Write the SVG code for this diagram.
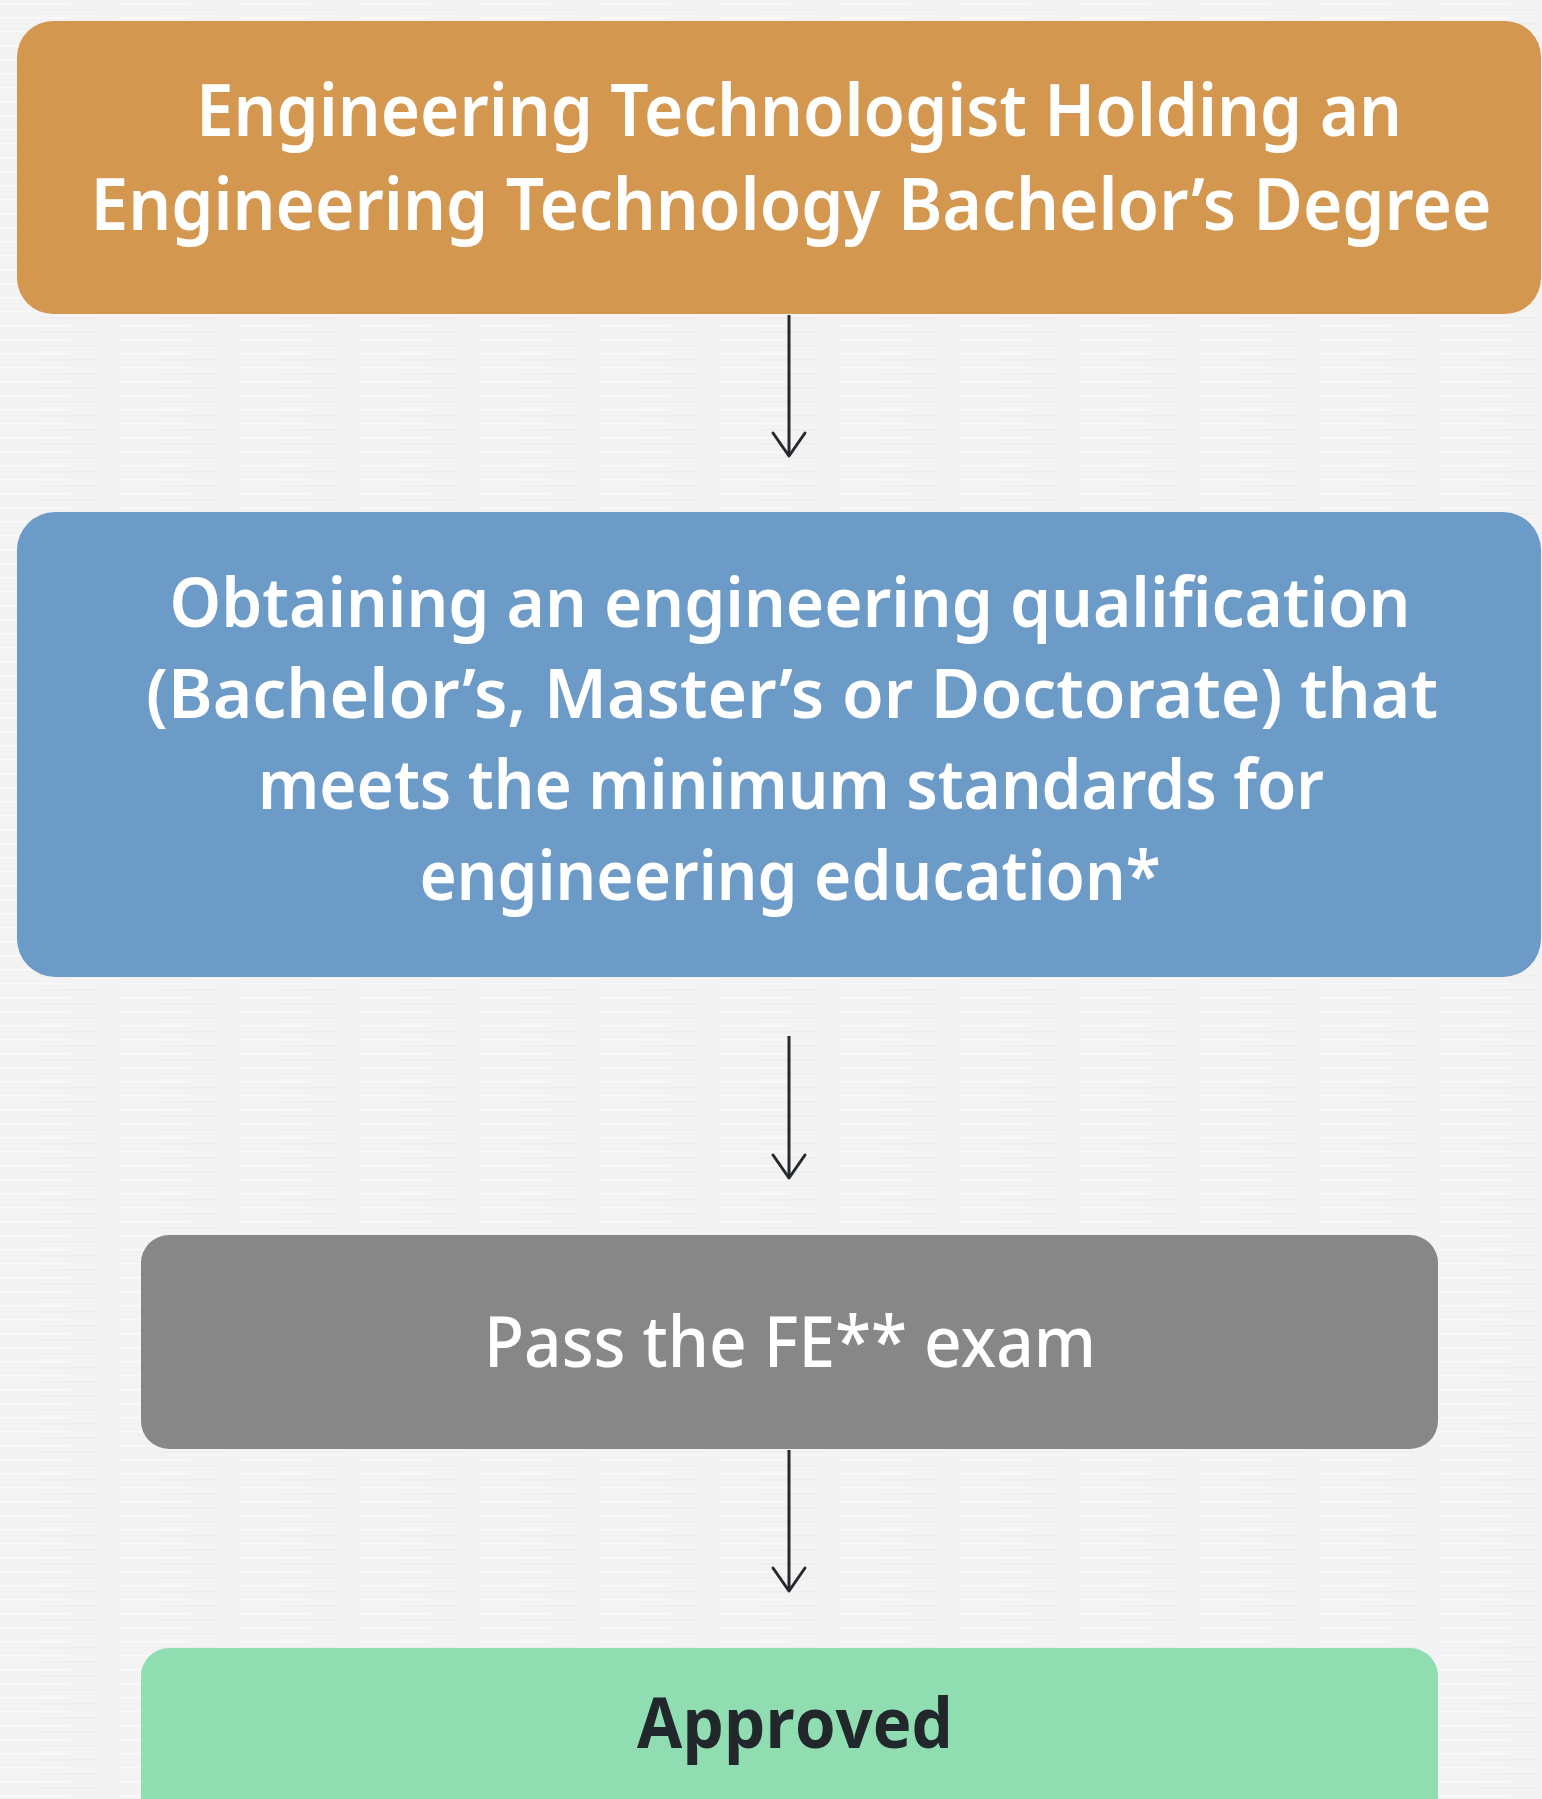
<svg xmlns="http://www.w3.org/2000/svg" width="1542" height="1799" viewBox="0 0 1542 1799">
  <defs>
    <pattern id="tex" width="120" height="14" patternUnits="userSpaceOnUse">
      <rect width="120" height="14" fill="#f3f3f3"/>
      <rect x="0" y="3" width="70" height="1.5" fill="#fafafa"/>
      <rect x="40" y="9" width="60" height="1.5" fill="#ededed"/>
    </pattern>
    <marker id="arrow" markerUnits="userSpaceOnUse" markerWidth="40" markerHeight="40" viewBox="-30 -20 40 40" refX="0" refY="0" orient="auto">
      <path d="M-23,-16 L0,0 L-23,16" fill="none" stroke="#25292d" stroke-width="3" stroke-linecap="round" stroke-linejoin="round"/>
    </marker>
  </defs>
  <style>
    .lbl { fill: #ffffff; text-anchor: middle; font-family: "Noto Sans", "Open Sans", sans-serif; }
    .conn { stroke: #25292d; stroke-width: 3; fill: none; marker-end: url(#arrow); }
  </style>
  <rect width="1542" height="1799" fill="url(#tex)"/>

  <g id="connectors">
    <line class="conn" x1="789" y1="315" x2="789" y2="456"/>
    <line class="conn" x1="789" y1="1036" x2="789" y2="1178"/>
    <line class="conn" x1="789" y1="1450" x2="789" y2="1591"/>
  </g>

  <g id="node-technologist">
    <rect x="17" y="21" width="1524" height="293" rx="36" fill="#d4974f"/>
    <text class="lbl" font-size="72" font-weight="600" x="799" y="136" textLength="1206" lengthAdjust="spacingAndGlyphs">Engineering Technologist Holding an</text>
    <text class="lbl" font-size="72" font-weight="600" x="791" y="230" textLength="1401" lengthAdjust="spacingAndGlyphs">Engineering Technology Bachelor’s Degree</text>
  </g>

  <g id="node-qualification">
    <rect x="17" y="512" width="1524" height="465" rx="38" fill="#6d9bc7"/>
    <text class="lbl" font-size="69" font-weight="600" x="790" y="627" textLength="1241" lengthAdjust="spacingAndGlyphs">Obtaining an engineering qualification</text>
    <text class="lbl" font-size="69" font-weight="600" x="792" y="718" textLength="1292" lengthAdjust="spacingAndGlyphs">(Bachelor’s, Master’s or Doctorate) that</text>
    <text class="lbl" font-size="69" font-weight="600" x="791" y="809" textLength="1066" lengthAdjust="spacingAndGlyphs">meets the minimum standards for</text>
    <text class="lbl" font-size="69" font-weight="600" x="790" y="900" textLength="741" lengthAdjust="spacingAndGlyphs">engineering education*</text>
  </g>

  <g id="node-fe-exam">
    <rect x="141" y="1235" width="1297" height="214" rx="28" fill="#878787"/>
    <text class="lbl" font-size="70" font-weight="500" x="790" y="1367" textLength="612" lengthAdjust="spacingAndGlyphs">Pass the FE** exam</text>
  </g>

  <g id="node-approved">
    <rect x="141" y="1648" width="1297" height="200" rx="28" fill="#8fddb0"/>
    <text font-family="'Open Sans', 'Noto Sans', sans-serif" font-size="70" font-weight="700" fill="#22272b" text-anchor="middle" x="795" y="1748" textLength="316" lengthAdjust="spacingAndGlyphs">Approved</text>
  </g>
</svg>
